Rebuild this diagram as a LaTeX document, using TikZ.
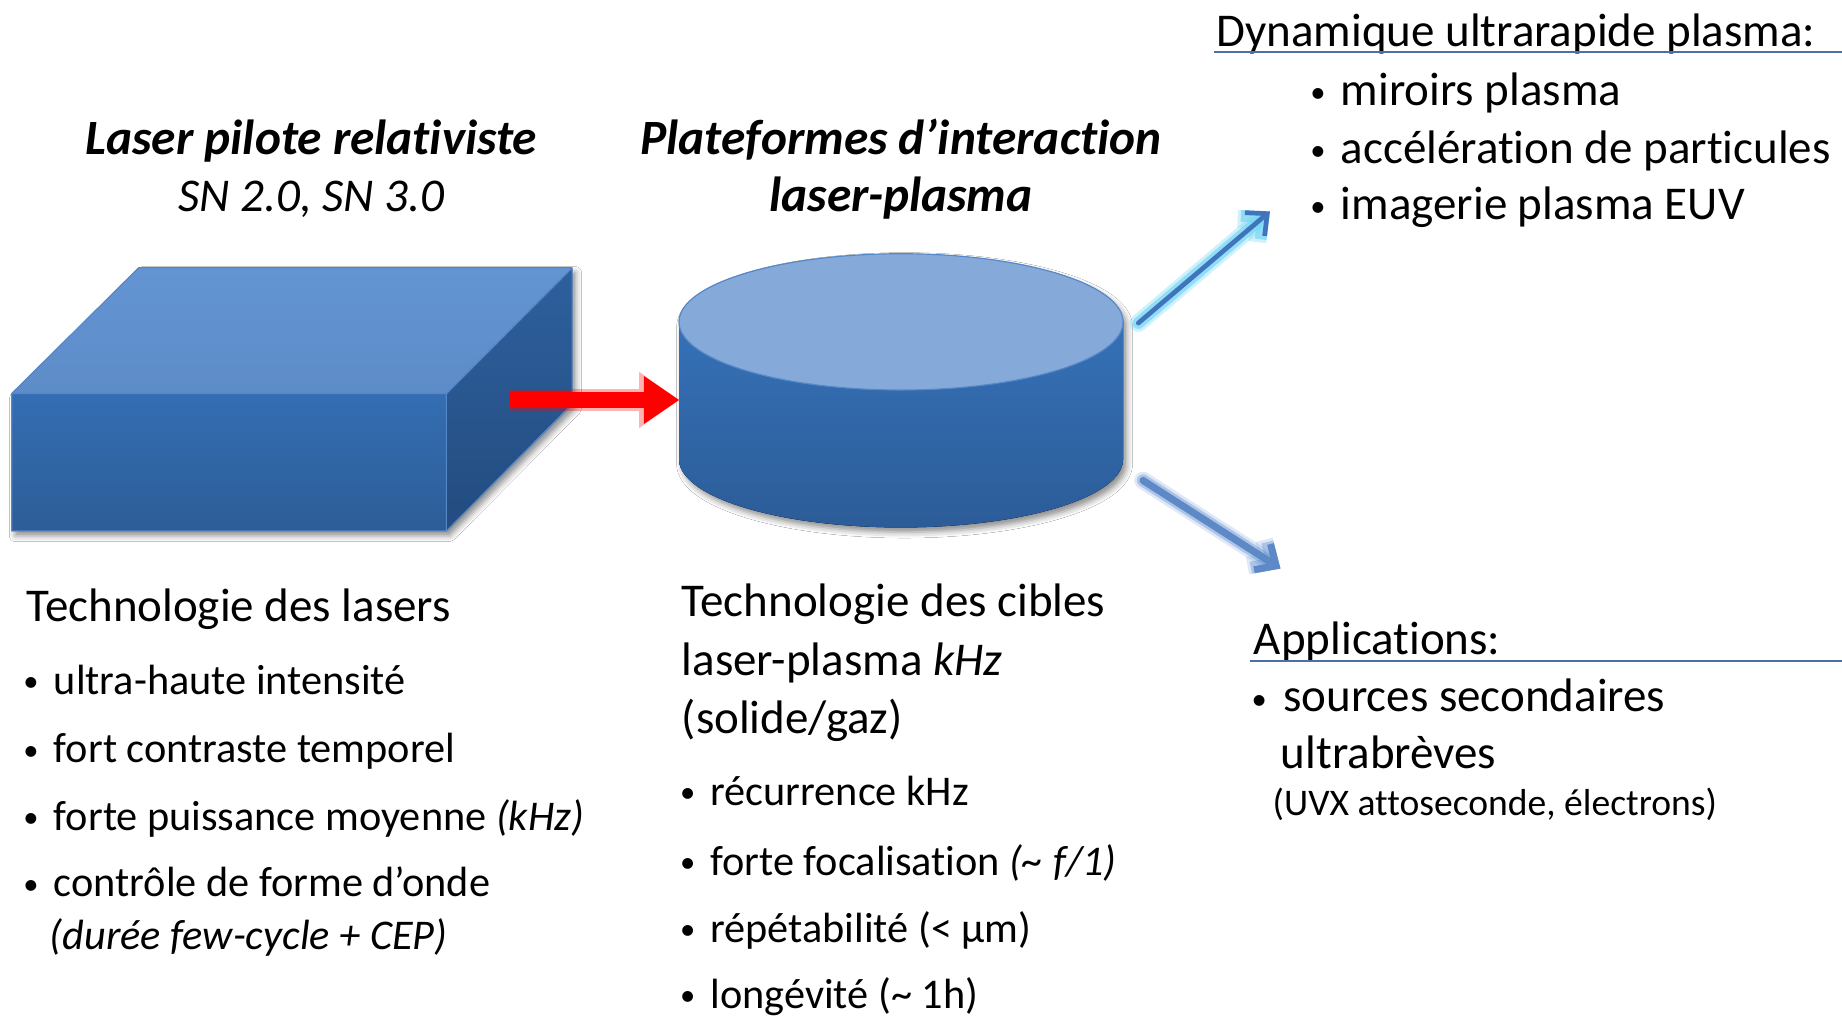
\documentclass[tikz,border=0pt]{standalone}
\usepackage{fontspec}
\setmainfont{Carlito}[Ligatures=NoCommon]
\usetikzlibrary{arrows.meta,shadows.blur}

% face colours of the laser block and the target cylinder
\definecolor{topfaceT}{RGB}{99,149,211}
\definecolor{topfaceB}{RGB}{93,140,200}
\definecolor{frontT}{RGB}{52,110,179}
\definecolor{frontB}{RGB}{45,93,151}
\definecolor{sideT}{RGB}{46,96,158}
\definecolor{sideB}{RGB}{35,76,127}
\definecolor{edgeblue}{RGB}{86,136,200}
\definecolor{cyltop}{RGB}{133,170,218}
\definecolor{cylT}{RGB}{53,113,183}
\definecolor{cylB}{RGB}{44,92,152}
\definecolor{rulecol}{RGB}{74,112,165}
\definecolor{arrowblue}{RGB}{64,116,188}
\definecolor{glowcyan}{RGB}{120,215,245}
\definecolor{glowblue}{RGB}{96,142,210}

% a small bullet hung to the left of the text start
\newcommand{\hangbullet}[1]{\llap{\raisebox{1.2pt}{\fontsize{13}{13}\selectfont •}\hspace{#1}}}

\begin{document}
\begin{tikzpicture}[x=0.5pt,y=-0.5pt,
  txt/.style={anchor=base west, inner sep=0pt, font=\fontsize{18}{21}\selectfont},
  headtxt/.style={anchor=base west, inner sep=0pt, font=\fontsize{20}{24}\selectfont},
  titletxt/.style={anchor=base, inner sep=0pt, font=\fontsize{21}{25}\selectfont\bfseries\itshape},
  subtxt/.style={anchor=base, inner sep=0pt, font=\fontsize{20}{24}\selectfont\itshape},
  shapeshadow/.style={blur shadow={shadow xshift=1.5pt, shadow yshift=-2pt,
      shadow blur radius=2.5pt, shadow opacity=45}},
  edgeline/.style={draw=edgeblue, line width=0.5pt, line join=round},
  beam/.style={line width=6.8pt, red, -{Triangle[length=15pt,width=20.5pt,line width=0pt]}},
  beamglow/.style={line width=9pt, red, opacity=0.3, -{Triangle[length=17pt,width=24pt,line width=0pt]}},
  outarrow/.style={line cap=round, line join=round, -{Straight Barb[length=7pt,width=13pt]}},
  rule/.style={draw=rulecol, line width=0.8pt}]

\useasboundingbox (0,0) rectangle (1568,865);
\fill[white] (0,0) rectangle (1568,865);

% ---------- relativistic driver laser: a cuboid ----------
\fill[shapeshadow, sideB] (10,335) -- (118,228) -- (487,228) -- (487,344)
  -- (380,452) -- (10,452) -- cycle;
\fill[top color=topfaceT, bottom color=topfaceB]
  (10,335) -- (118,228) -- (487,228) -- (380,335) -- cycle;
\fill[top color=frontT, bottom color=frontB] (10,335) rectangle (380,452);
\fill[top color=sideT, bottom color=sideB]
  (380,335) -- (487,228) -- (487,344) -- (380,452) -- cycle;
\path[edgeline] (10,335) -- (118,228) -- (487,228) -- (487,344) -- (380,452)
  -- (10,452) -- cycle (10,335) -- (380,335) -- (487,228) (380,335) -- (380,452);
\coordinate (laserOut) at (434,340.5);

% ---------- laser-plasma target platform: a cylinder ----------
\fill[shapeshadow, cylB] (578,274)
  -- plot[domain=180:360, samples=80] ({767+189*cos(\x)},{391-58*sin(\x)})
  -- plot[domain=0:180, samples=80] ({767+189*cos(\x)},{274-58*sin(\x)}) -- cycle;
\fill[top color=cylT, bottom color=cylB] (578,274)
  -- plot[domain=180:360, samples=80] ({767+189*cos(\x)},{391-58*sin(\x)})
  -- (956,274) -- cycle;
\fill[cyltop] (767,274) ellipse [x radius=189, y radius=58];
\draw[edgeblue, line width=0.5pt] (767,274) ellipse [x radius=189, y radius=58];
\coordinate (cylL) at (578,340.5);
\coordinate (cylTR) at (969,275);
\coordinate (cylBR) at (973,409);

% ---------- titles ----------
\node[titletxt] (laserTitle) at (265,131.5) {Laser pilote relativiste};
\node[subtxt] (laserSub) at (265,179.8) {SN 2.0, SN 3.0};
\node[titletxt] (platTitle) at (767,131.5) {Plateformes d’interaction};
\node[titletxt] (platTitleB) at (767,179.8) {laser-plasma};

% ---------- laser technology ----------
\node[headtxt] (lasHead) at (22,529) {Technologie des lasers};
\node[txt] (las1) at (45.5,591) {\hangbullet{6.5pt}ultra-haute intensité};
\node[txt] (las2) at (45.5,649.5) {\hangbullet{6.5pt}fort contraste temporel};
\node[txt] (las3) at (45.5,707) {\hangbullet{6.5pt}forte puissance moyenne \textit{(kHz)}};
\node[txt] (las4) at (45.5,763.5) {\hangbullet{6.5pt}contrôle de forme d’onde};
\node[txt] (las5) at (42,808) {\textit{(durée few-cycle + CEP)}};

% ---------- target technology ----------
\node[headtxt] (tgtHead) at (580,524.5) {Technologie des cibles};
\node[headtxt] (tgtHeadB) at (580,575) {laser-plasma \textit{kHz}};
\node[headtxt] (tgtHeadC) at (580,624) {(solide/gaz)};
\node[txt] (tgt1) at (604.4,685.5) {\hangbullet{6.5pt}récurrence kHz};
\node[txt] (tgt2) at (604.4,745) {\hangbullet{6.5pt}forte focalisation \textit{(\textasciitilde\ f/1)}};
\node[txt] (tgt3) at (604.4,802) {\hangbullet{6.5pt}répétabilité (< µm)};
\node[txt] (tgt4) at (604.4,858.5) {\hangbullet{6.5pt}longévité (\textasciitilde\ 1h)};

% ---------- ultrafast plasma dynamics ----------
\node[headtxt] (dynHead) at (1035,39.5) {Dynamique ultrarapide plasma:};
\draw[rule] (1033,44) -- (1568,44);
\node[headtxt] (dyn1) at (1141,90) {\hangbullet{6.5pt}miroirs plasma};
\node[headtxt] (dyn2) at (1141,139) {\hangbullet{6.5pt}accélération de particules};
\node[headtxt] (dyn3) at (1141,187) {\hangbullet{6.5pt}imagerie plasma EUV};
\coordinate (dynTip) at (1081,180);

% ---------- applications ----------
\node[headtxt] (appHead) at (1067,557) {Applications:};
\draw[rule] (1064,562.7) -- (1568,562.7);
\node[headtxt] (app1) at (1092,606) {\hangbullet{7pt}sources secondaires};
\node[headtxt] (app2) at (1090,654.5) {ultrabrèves};
\node[txt, font=\fontsize{16}{19}\selectfont] (app3) at (1083,694.5) {(UVX attoseconde, électrons)};
\coordinate (appTip) at (1090,484);

% ---------- beams ----------
\draw[beamglow] (laserOut) -- (cylL);
\draw[beam] (laserOut) -- (cylL);

\draw[outarrow, glowcyan, opacity=0.35, line width=7.5pt] (cylTR) -- (dynTip);
\draw[outarrow, glowcyan, opacity=0.7, line width=5pt] (cylTR) -- (dynTip);
\draw[outarrow, arrowblue, line width=2pt] (cylTR) -- (dynTip);

\draw[outarrow, glowblue, opacity=0.2, line width=7.5pt] (cylBR) -- (appTip);
\draw[outarrow, glowblue, opacity=0.4, line width=5.2pt] (cylBR) -- (appTip);
\draw[outarrow, arrowblue!85!white, line width=3pt] (cylBR) -- (appTip);
\end{tikzpicture}
\end{document}
